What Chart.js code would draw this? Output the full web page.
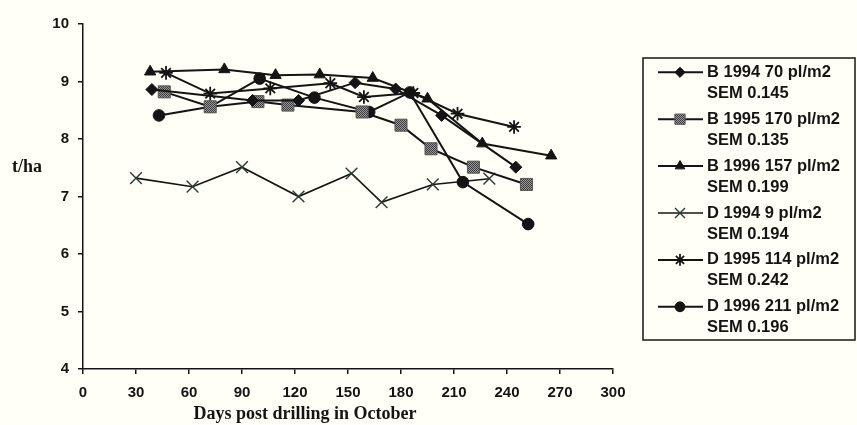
<!DOCTYPE html>
<html>
<head>
<meta charset="utf-8">
<script src="https://cdn.jsdelivr.net/npm/chart.js"></script>
<style>
  html, body { margin: 0; padding: 0; background: #fffff7; }
  #wrap { width: 857px; height: 425px; position: relative; }
</style>
</head>
<body>
<div id="wrap"><canvas id="c" width="857" height="425"></canvas></div>
<script>
// ---- data ----
const xTicks = [0, 30, 60, 90, 120, 150, 180, 210, 240, 270, 300];
const yTicks = [4, 5, 6, 7, 8, 9, 10];

const seriesLabels = [
  ["B 1994 70 pl/m2", "SEM 0.145"],
  ["B 1995 170 pl/m2", "SEM 0.135"],
  ["B 1996 157 pl/m2", "SEM 0.199"],
  ["D 1994 9 pl/m2", "SEM 0.194"],
  ["D 1995 114 pl/m2", "SEM 0.242"],
  ["D 1996 211 pl/m2", "SEM 0.196"]
];

const b1994Days  = [39, 96, 122, 154, 177, 203, 245];
const b1994Yield = [8.86, 8.67, 8.67, 8.98, 8.87, 8.41, 7.51];

const b1995Days  = [46, 72, 99, 116, 158, 180, 197, 221, 251];
const b1995Yield = [8.82, 8.56, 8.65, 8.59, 8.47, 8.24, 7.83, 7.51, 7.21];

const b1996Days  = [38, 80, 109, 134, 164, 195, 226, 265];
const b1996Yield = [9.17, 9.21, 9.11, 9.12, 9.06, 8.70, 7.92, 7.71];

const d1994Days  = [30, 62, 90, 122, 152, 169, 198, 230];
const d1994Yield = [7.32, 7.17, 7.51, 7.00, 7.40, 6.90, 7.21, 7.31];

const d1995Days  = [47, 72, 106, 140, 159, 187, 212, 244];
const d1995Yield = [9.15, 8.79, 8.88, 8.97, 8.73, 8.80, 8.44, 8.21];

const d1996Days  = [43, 72, 100, 131, 162, 185, 215, 252];
const d1996Yield = [8.41, 8.56, 9.05, 8.72, 8.47, 8.81, 7.25, 6.52];

// ---- styling ----
const INK = '#141414';
function checker() {
  const p = document.createElement('canvas');
  p.width = 2; p.height = 2;
  const g = p.getContext('2d');
  g.fillStyle = '#9a9a9a'; g.fillRect(0, 0, 2, 2);
  g.fillStyle = '#3c3c3c'; g.fillRect(0, 0, 1, 1); g.fillRect(1, 1, 1, 1);
  return g.createPattern(p, 'repeat');
}
const checkPattern = checker();

const styles = [
  { pointStyle: 'rectRot',  radius: 6,   fill: INK, border: INK, bw: 1, lw: 2 },
  { pointStyle: 'rect',     radius: 8.5, fill: checkPattern, border: '#555', bw: 1, lw: 2 },
  { pointStyle: 'triangle', radius: 6.5, fill: INK, border: INK, bw: 1, lw: 2 },
  { pointStyle: 'crossRot', radius: 8.3, fill: 'rgba(0,0,0,0)', border: '#2a3a34', bw: 1.4, lw: 1.6 },
  { pointStyle: 'star',     radius: 6.8, fill: INK, border: INK, bw: 1.8, lw: 2 },
  { pointStyle: 'circle',   radius: 5.8, fill: INK, border: INK, bw: 1, lw: 2 }
];

const allDays = [b1994Days, b1995Days, b1996Days, d1994Days, d1995Days, d1996Days];
const allYield = [b1994Yield, b1995Yield, b1996Yield, d1994Yield, d1995Yield, d1996Yield];

const datasets = allDays.map((days, i) => {
  const s = styles[i];
  return {
    label: seriesLabels[i].join(' '),
    data: days.map((d, k) => ({ x: d, y: allYield[i][k] })),
    borderColor: INK,
    borderWidth: s.lw,
    pointStyle: s.pointStyle,
    pointRadius: s.radius,
    pointHoverRadius: s.radius,
    pointBackgroundColor: s.fill,
    pointBorderColor: s.border,
    pointBorderWidth: s.bw,
    showLine: true,
    tension: 0,
    fill: false
  };
});

const bgPlugin = {
  id: 'bg',
  beforeDraw(chart) {
    const ctx = chart.ctx;
    ctx.save();
    ctx.fillStyle = '#fffff7';
    ctx.fillRect(0, 0, chart.width, chart.height);
    ctx.restore();
  }
};

const decorPlugin = {
  id: 'decor',
  afterDraw(chart) {
    const ctx = chart.ctx;
    ctx.save();
    // axis titles
    ctx.fillStyle = INK;
    ctx.font = 'bold 18px "Liberation Serif", "Times New Roman", serif';
    ctx.textAlign = 'center';
    ctx.textBaseline = 'middle';
    ctx.fillText('t/ha', 27, 167);
    ctx.fillText('Days post drilling in October', 305, 414);

    // legend box
    const L = 643, T = 58, R = 855, B = 340;
    ctx.lineWidth = 1.5;
    ctx.strokeStyle = INK;
    ctx.strokeRect(L, T, R - L, B - T);

    ctx.font = 'bold 16.5px "Liberation Sans", Arial, sans-serif';
    ctx.textAlign = 'left';
    for (let i = 0; i < seriesLabels.length; i++) {
      const y = 72.3 + i * 46.9;
      const s = styles[i];
      ctx.strokeStyle = INK;
      ctx.lineWidth = s.lw;
      ctx.beginPath();
      ctx.moveTo(658, y);
      ctx.lineTo(703, y);
      ctx.stroke();
      ctx.fillStyle = s.fill;
      ctx.strokeStyle = s.border;
      ctx.lineWidth = s.bw;
      if (Chart.helpers && Chart.helpers.drawPoint) {
        Chart.helpers.drawPoint(ctx, { pointStyle: s.pointStyle, radius: s.radius * 0.85, rotation: 0, borderWidth: s.bw }, 680, y);
      } else {
        ctx.beginPath(); ctx.arc(680, y, 5, 0, Math.PI * 2); ctx.fill();
      }
      ctx.fillStyle = INK;
      ctx.fillText(seriesLabels[i][0], 707, y);
      ctx.fillText(seriesLabels[i][1], 707, y + 21);
    }
    ctx.restore();
  }
};

new Chart(document.getElementById('c'), {
  type: 'line',
  data: { datasets },
  plugins: [bgPlugin, decorPlugin],
  options: {
    responsive: false,
    animation: false,
    events: [],
    layout: { padding: { left: 0, top: 24, right: 244, bottom: 0 } },
    plugins: { legend: { display: false }, tooltip: { enabled: false }, title: { display: false } },
    scales: {
      x: {
        type: 'linear',
        min: 0, max: 300,
        afterBuildTicks(scale) { scale.ticks = xTicks.map(v => ({ value: v })); },
        afterFit(scale) { scale.height = 56; },
        ticks: {
          color: INK,
          padding: 10,
          maxRotation: 0,
          font: { family: '"Liberation Sans", Arial, sans-serif', size: 15, weight: 'bold' }
        },
        grid: { display: true, drawOnChartArea: false, drawTicks: true, tickLength: 5, color: INK, lineWidth: 1.5 },
        border: { display: true, color: INK, width: 1.5 }
      },
      y: {
        min: 4, max: 10,
        afterBuildTicks(scale) { scale.ticks = yTicks.map(v => ({ value: v })); },
        afterFit(scale) { scale.width = 83; },
        ticks: {
          color: INK,
          padding: 9,
          font: { family: '"Liberation Sans", Arial, sans-serif', size: 15, weight: 'bold' }
        },
        grid: { display: true, drawOnChartArea: false, drawTicks: true, tickLength: 5, color: INK, lineWidth: 1.5 },
        border: { display: true, color: INK, width: 1.5 }
      }
    }
  }
});
</script>
</body>
</html>
